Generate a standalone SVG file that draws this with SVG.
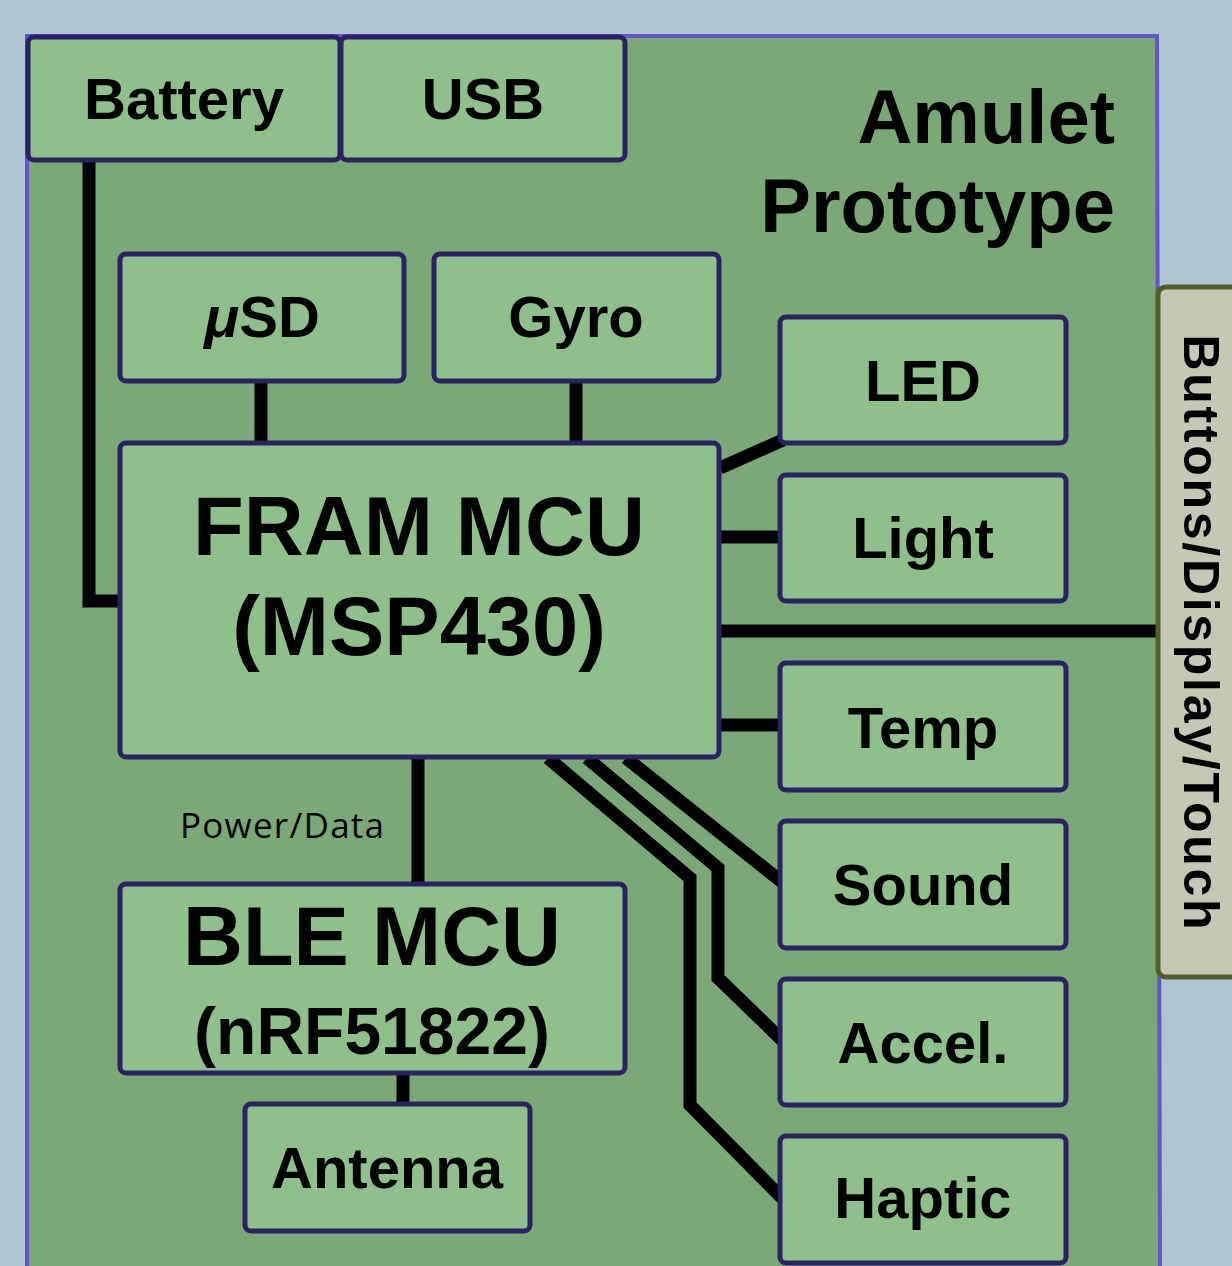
<svg xmlns="http://www.w3.org/2000/svg" width="1232" height="1266" viewBox="0 0 1232 1266">
<style>
.box{fill:#8fc08c;stroke:#2b2163;stroke-width:5}
.lbl{font-family:"Liberation Sans",Arial,sans-serif;font-weight:bold;fill:#000;text-anchor:middle}
.w{stroke:#000;stroke-width:13;fill:none;stroke-linejoin:miter}
</style>
<rect x="0" y="0" width="1232" height="1266" fill="#afc6d2"/>
<g id="board">
<path d="M27,36 L1157,36 L1160,1270 L27,1270 Z" fill="#7aa876" stroke="#6655c8" stroke-width="4"/>
<text class="lbl" x="1115" y="143" font-size="76" style="text-anchor:end">Amulet</text>
<text class="lbl" x="1115" y="232" font-size="76" style="text-anchor:end">Prototype</text>
</g>
<g id="connectors">
<path class="w" d="M89,160 V601 H120"/>
<path class="w" d="M261,381 V443"/>
<path class="w" d="M576,381 V443"/>
<path class="w" d="M720,468 L783,440"/>
<path class="w" d="M720,537 H780"/>
<path class="w" d="M720,631 H1158"/>
<path class="w" d="M720,725 H780"/>
<path class="w" d="M418,757 V884"/>
<path class="w" d="M403,1073 V1104"/>
<path class="w" d="M626,758 L782,882"/>
<path class="w" d="M587,758 L718,868 V978 L782,1040"/>
<path class="w" d="M548,758 L690,878 V1105 L782,1198"/>
<text x="180" y="838" font-family="Open Sans, Liberation Sans, sans-serif" font-size="35" fill="#000" textLength="204">Power/Data</text>
</g>
<g id="battery"><rect class="box" x="28" y="37" width="312" height="123" rx="6"/><text class="lbl" x="184" y="119" font-size="58">Battery</text></g>
<g id="usb"><rect class="box" x="341" y="37" width="284" height="123" rx="6"/><text class="lbl" x="483" y="119" font-size="58">USB</text></g>
<g id="usd"><rect class="box" x="120" y="254" width="284" height="127" rx="6"/><text class="lbl" x="262" y="337" font-size="58"><tspan font-style="italic">μ</tspan>SD</text></g>
<g id="gyro"><rect class="box" x="434" y="254" width="285" height="127" rx="6"/><text class="lbl" x="576" y="337" font-size="58">Gyro</text></g>
<g id="led"><rect class="box" x="780" y="317" width="286" height="126" rx="6"/><text class="lbl" x="923" y="401" font-size="58">LED</text></g>
<g id="light"><rect class="box" x="780" y="475" width="286" height="126" rx="6"/><text class="lbl" x="923" y="558" font-size="58">Light</text></g>
<g id="fram"><rect class="box" x="120" y="443" width="599" height="314" rx="6"/><text class="lbl" x="419" y="555" font-size="83">FRAM MCU</text><text class="lbl" x="419" y="655" font-size="83">(MSP430)</text></g>
<g id="temp"><rect class="box" x="780" y="663" width="286" height="127" rx="6"/><text class="lbl" x="923" y="748" font-size="58">Temp</text></g>
<g id="sound"><rect class="box" x="780" y="821" width="286" height="127" rx="6"/><text class="lbl" x="923" y="905" font-size="58">Sound</text></g>
<g id="accel"><rect class="box" x="780" y="979" width="286" height="126" rx="6"/><text class="lbl" x="923" y="1063" font-size="58">Accel.</text></g>
<g id="haptic"><rect class="box" x="780" y="1136" width="286" height="127" rx="6"/><text class="lbl" x="923" y="1218" font-size="58">Haptic</text></g>
<g id="ble"><rect class="box" x="120" y="884" width="505" height="189" rx="6"/><text class="lbl" x="372" y="965" font-size="83">BLE MCU</text><text class="lbl" x="372" y="1054" font-size="66">(nRF51822)</text></g>
<g id="antenna"><rect class="box" x="245" y="1104" width="285" height="127" rx="6"/><text class="lbl" x="387" y="1188" font-size="58">Antenna</text></g>
<g id="buttons"><rect x="1158" y="287" width="90" height="690" rx="8" fill="#c5c8b5" stroke="#555e28" stroke-width="5"/><text class="lbl" transform="translate(1184,632) rotate(90)" x="0" y="0" font-size="50" textLength="595">Buttons/Display/Touch</text></g>
</svg>
